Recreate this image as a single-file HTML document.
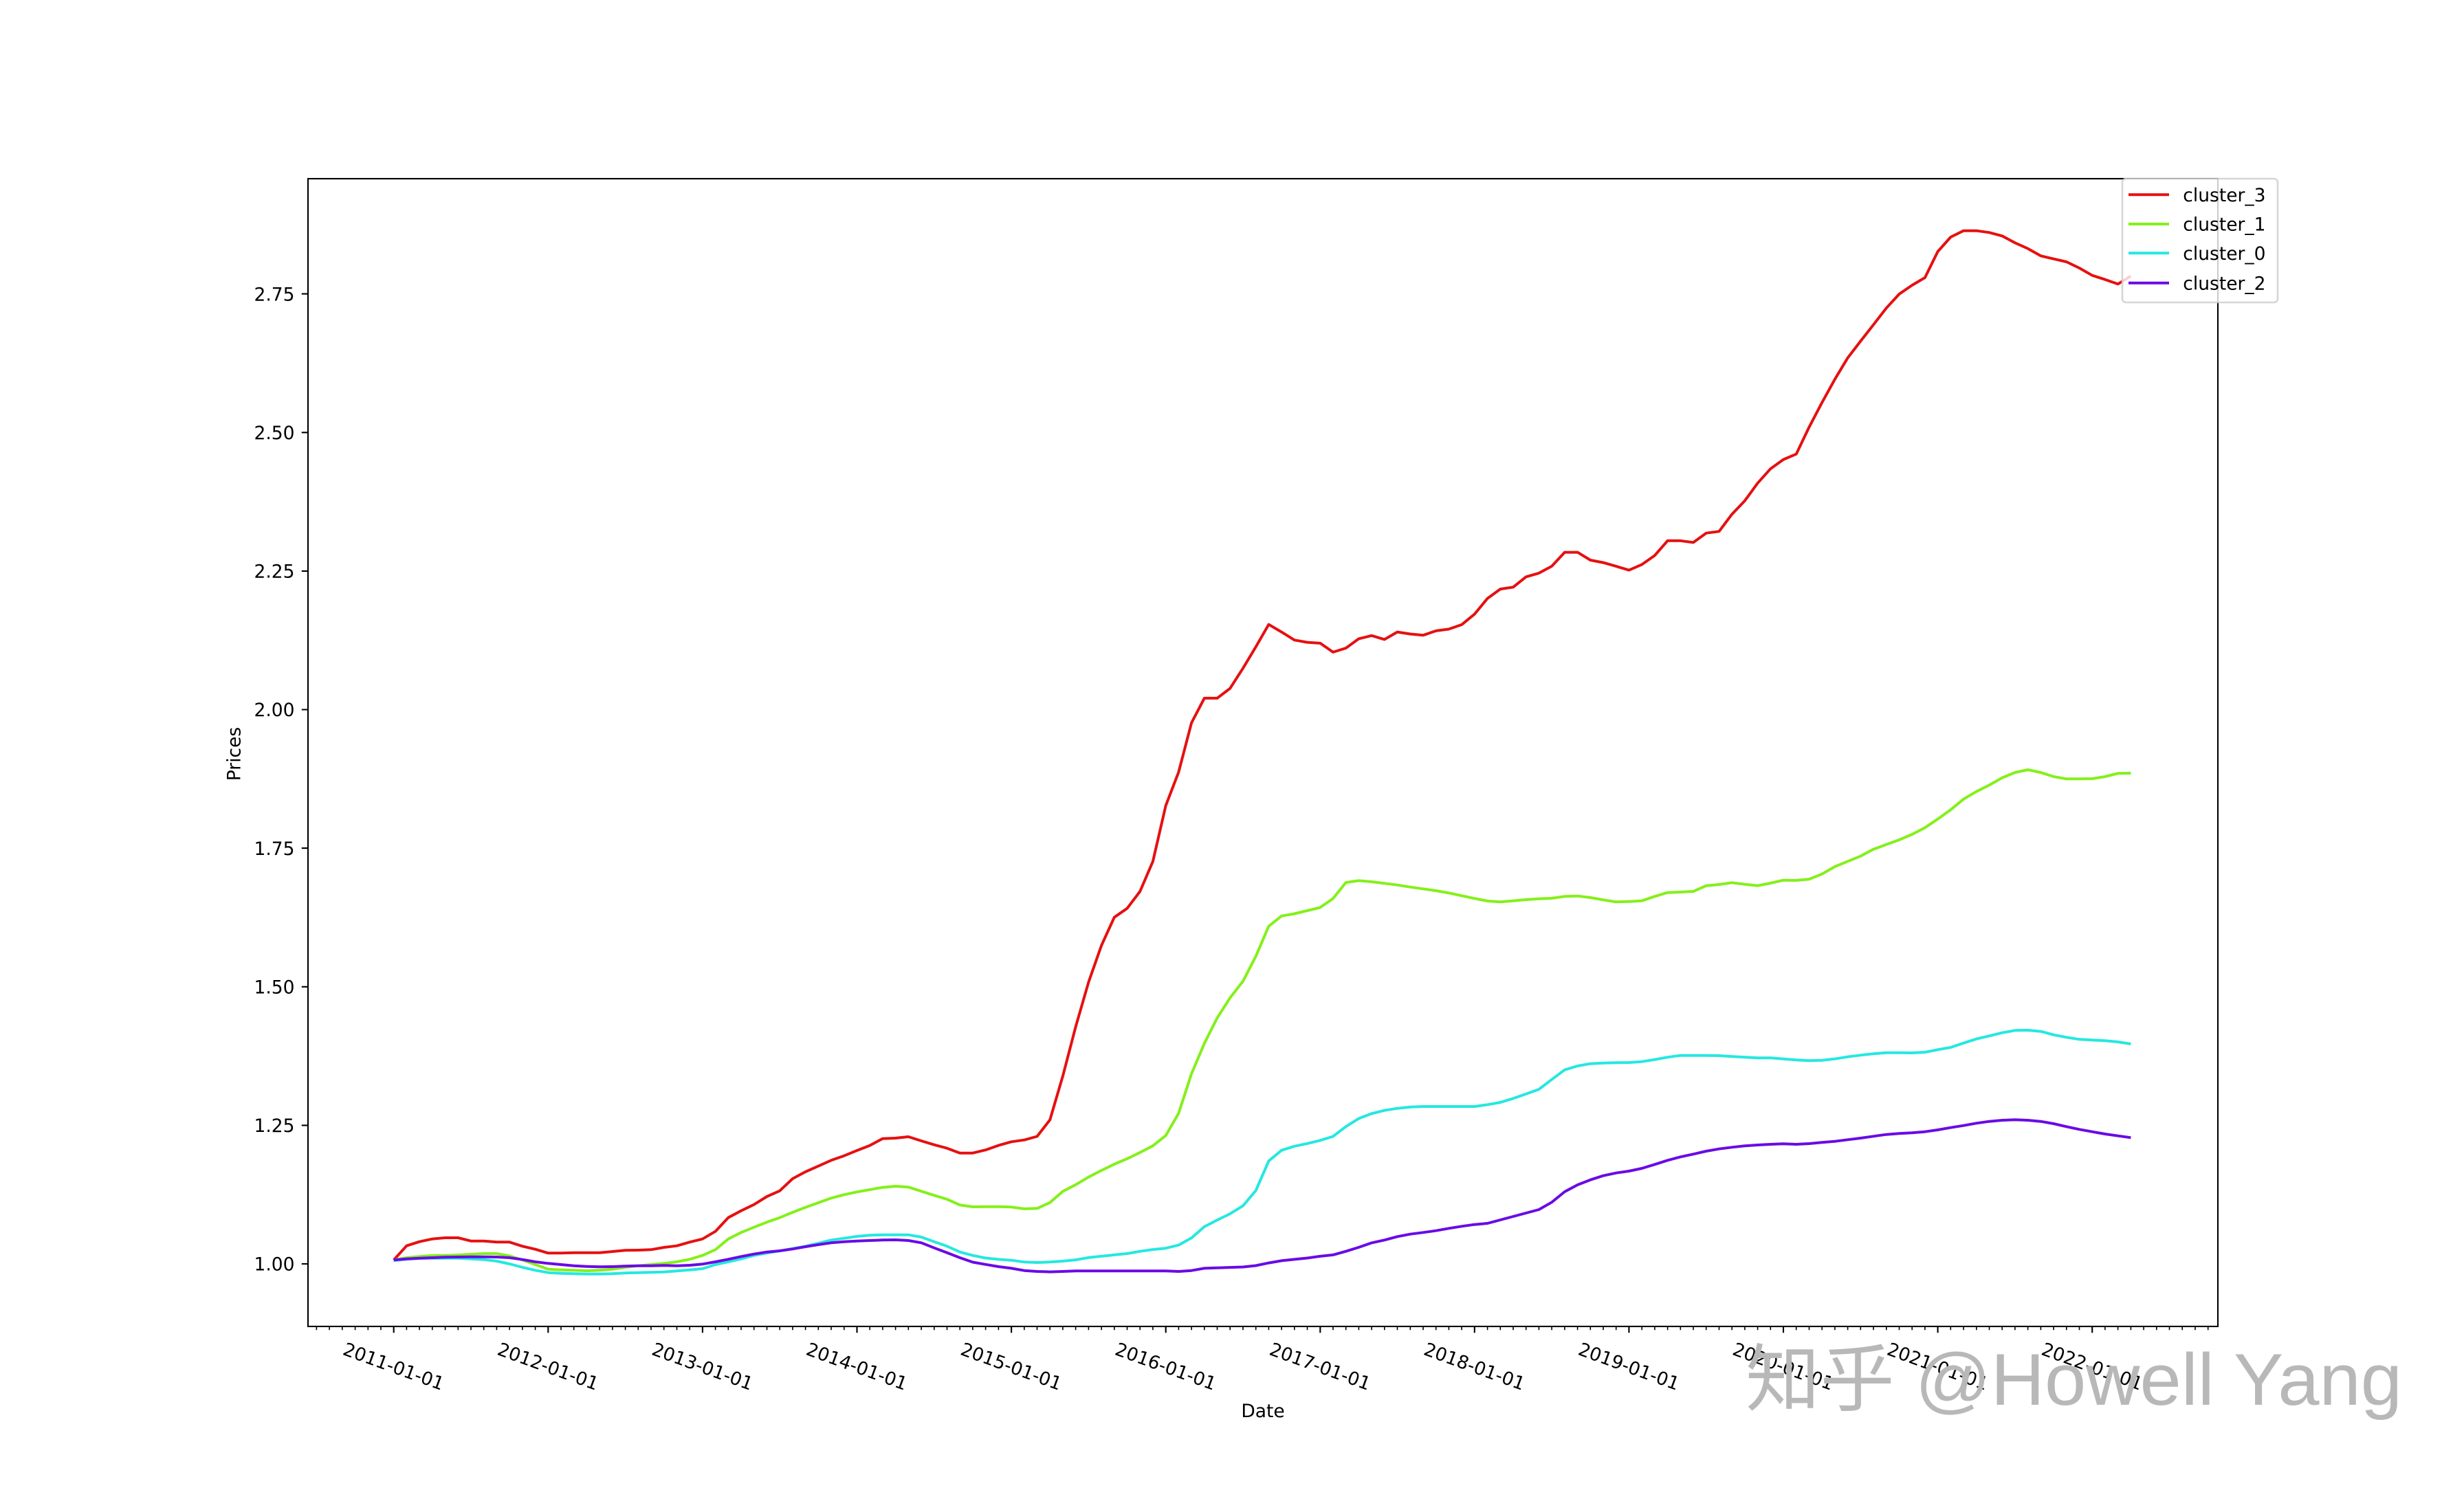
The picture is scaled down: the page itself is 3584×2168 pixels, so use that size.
<!DOCTYPE html>
<html>
<head>
<meta charset="utf-8">
<style>
html,body{margin:0;padding:0;background:#fff;}
svg{display:block;}
text{font-family:"DejaVu Sans","Liberation Sans",sans-serif;fill:#000;}
</style>
</head>
<body>
<svg width="3584" height="2168" viewBox="0 0 3584 2168" xmlns="http://www.w3.org/2000/svg">
<rect x="0" y="0" width="3584" height="2168" fill="#fff"/>
<defs>
<clipPath id="ax"><rect x="448" y="260" width="2778" height="1670"/></clipPath>
</defs>

<g clip-path="url(#ax)" fill="none" stroke-width="4" stroke-linejoin="round" stroke-linecap="butt">
<polyline stroke="#e61010" points="572.7,1833.3 591.4,1812.7 610.1,1806.7 628.8,1802.7 647.6,1801 666.3,1801 685,1805.7 703.7,1805.7 722.4,1807.3 741.1,1807.3 759.9,1813.3 778.6,1817.7 797.3,1823.3 816,1823.3 834.7,1822.7 853.4,1822.7 872.2,1822.7 890.9,1821 909.6,1819.3 928.3,1819 947,1818.3 965.7,1815 984.5,1812.7 1003.2,1807.3 1021.9,1802.7 1040.6,1791.7 1059.3,1771.7 1078,1761.7 1096.7,1752.7 1115.5,1741 1134.2,1732.7 1152.9,1715 1171.6,1705 1190.3,1696.7 1209,1688.3 1227.8,1681.7 1246.5,1674 1265.2,1666.7 1283.9,1656.7 1302.6,1656 1321.3,1654 1340.1,1660 1358.8,1665.7 1377.5,1670.7 1396.2,1677.7 1414.9,1677.7 1433.6,1673.2 1452.4,1666.6 1471.1,1661.3 1489.8,1658.7 1508.5,1653.5 1527.2,1629.4 1545.9,1565.7 1564.6,1494.1 1583.4,1429 1602.1,1375.7 1620.8,1334.7 1639.5,1321.7 1658.2,1297 1676.9,1253.4 1695.7,1172.1 1714.4,1123.3 1733.1,1051.7 1751.8,1015.9 1770.5,1015.9 1789.2,1001.6 1808,972.3 1826.7,941.1 1845.4,908.6 1864.1,919.6 1882.8,931.3 1901.5,934.6 1920.3,935.9 1939,948.9 1957.7,943 1976.4,929.4 1995.1,924.8 2013.8,930.4 2032.5,919.6 2051.3,922.5 2070,924.3 2088.7,917.9 2107.4,915.4 2126.1,908.9 2144.8,893.6 2163.6,870.7 2182.3,857.1 2201,854.3 2219.7,839.3 2238.4,833.9 2257.1,823.9 2275.9,803.6 2294.6,803.6 2313.3,815 2332,818.6 2350.7,823.9 2369.4,829.6 2388.2,821.4 2406.9,808.2 2425.6,786.8 2444.3,786.8 2463,789.3 2481.7,775.7 2500.5,773.2 2519.2,748.2 2537.9,728.6 2556.6,702.9 2575.3,682.1 2594,668.6 2612.7,660.7 2631.5,621.4 2650.2,585.7 2668.9,551.8 2687.6,520.7 2706.3,496.4 2725,472.5 2743.8,448.2 2762.5,427.9 2781.2,415 2799.9,404 2818.6,366 2837.3,345 2856.1,335.7 2874.8,335.7 2893.5,338.3 2912.2,343.3 2930.9,353.3 2949.6,361.7 2968.4,372.3 2987.1,376.7 3005.8,381 3024.5,390 3043.2,400.7 3061.9,406.7 3080.6,413.3 3099.4,401.7"/>
<polyline stroke="#84f01a" points="572.7,1833.3 591.4,1830 610.1,1828.3 628.8,1826.7 647.6,1826.7 666.3,1826 685,1825 703.7,1824 722.4,1824 741.1,1827.3 759.9,1833.3 778.6,1840 797.3,1846.7 816,1847.7 834.7,1848.3 853.4,1849 872.2,1848.3 890.9,1846.7 909.6,1844 928.3,1841.7 947,1840 965.7,1838.3 984.5,1836 1003.2,1832.3 1021.9,1826.7 1040.6,1818.3 1059.3,1802.7 1078,1793.3 1096.7,1785.7 1115.5,1778.3 1134.2,1771.7 1152.9,1764 1171.6,1756.7 1190.3,1750 1209,1743.3 1227.8,1738.3 1246.5,1734.3 1265.2,1731 1283.9,1727.7 1302.6,1726 1321.3,1727.3 1340.1,1733.3 1358.8,1739.3 1377.5,1745 1396.2,1753.3 1414.9,1756 1433.6,1755.7 1452.4,1755.7 1471.1,1756.3 1489.8,1758.9 1508.5,1758.3 1527.2,1749.8 1545.9,1733.5 1564.6,1723.8 1583.4,1712.7 1602.1,1703 1620.8,1693.9 1639.5,1686 1658.2,1676.9 1676.9,1667.2 1695.7,1652.2 1714.4,1619.7 1733.1,1562.4 1751.8,1518.2 1770.5,1481.1 1789.2,1451.8 1808,1427.7 1826.7,1391.3 1845.4,1347.7 1864.1,1332.8 1882.8,1329.5 1901.5,1325 1920.3,1320.4 1939,1307.4 1957.7,1284 1976.4,1281.4 1995.1,1283 2013.8,1285.3 2032.5,1287.7 2051.3,1290.7 2070,1293.3 2088.7,1296 2107.4,1299.3 2126.1,1303.3 2144.8,1307.3 2163.6,1311 2182.3,1312.3 2201,1310.7 2219.7,1309 2238.4,1307.7 2257.1,1307 2275.9,1304.3 2294.6,1303.7 2313.3,1306 2332,1309.3 2350.7,1312.3 2369.4,1311.7 2388.2,1310.7 2406.9,1304.3 2425.6,1298.7 2444.3,1298 2463,1297 2481.7,1288.7 2500.5,1287 2519.2,1284.3 2537.9,1286.7 2556.6,1288.7 2575.3,1285 2594,1280.7 2612.7,1281 2631.5,1279.3 2650.2,1271.7 2668.9,1261 2687.6,1253.3 2706.3,1245.7 2725,1235.7 2743.8,1228.7 2762.5,1222 2781.2,1214 2799.9,1204.3 2818.6,1191.7 2837.3,1178.3 2856.1,1162.7 2874.8,1151.7 2893.5,1142.3 2912.2,1131.7 2930.9,1124 2949.6,1120 2968.4,1124 2987.1,1130 3005.8,1133.3 3024.5,1133.3 3043.2,1133 3061.9,1130 3080.6,1125.3 3099.4,1125"/>
<polyline stroke="#25e8e0" points="572.7,1834.3 591.4,1832.3 610.1,1831 628.8,1830.7 647.6,1830.7 666.3,1830.7 685,1831.7 703.7,1832.7 722.4,1835 741.1,1839 759.9,1844 778.6,1848.3 797.3,1851.7 816,1852.7 834.7,1853.3 853.4,1853.7 872.2,1853.7 890.9,1853.3 909.6,1852.3 928.3,1851.7 947,1851.3 965.7,1850.7 984.5,1849.3 1003.2,1847.7 1021.9,1846 1040.6,1840 1059.3,1836 1078,1831.7 1096.7,1826.7 1115.5,1823.3 1134.2,1820 1152.9,1816.7 1171.6,1813.3 1190.3,1809 1209,1804.3 1227.8,1801.7 1246.5,1799 1265.2,1797.3 1283.9,1796.7 1302.6,1796.7 1321.3,1796.7 1340.1,1800 1358.8,1806.7 1377.5,1813.3 1396.2,1821.7 1414.9,1826.7 1433.6,1830.5 1452.4,1832.4 1471.1,1833.7 1489.8,1836.3 1508.5,1837 1527.2,1836.3 1545.9,1835 1564.6,1833.1 1583.4,1829.8 1602.1,1827.9 1620.8,1825.9 1639.5,1824 1658.2,1820.7 1676.9,1818.1 1695.7,1816.2 1714.4,1811.6 1733.1,1801.2 1751.8,1784.9 1770.5,1775.2 1789.2,1766.1 1808,1754.4 1826.7,1732.2 1845.4,1689.3 1864.1,1673.7 1882.8,1667.8 1901.5,1663.9 1920.3,1659.3 1939,1653.5 1957.7,1639.2 1976.4,1627.5 1995.1,1620.3 2013.8,1615.7 2032.5,1612.7 2051.3,1610.7 2070,1610 2088.7,1610 2107.4,1610 2126.1,1610 2144.8,1610 2163.6,1607.3 2182.3,1604 2201,1598.3 2219.7,1591.7 2238.4,1585 2257.1,1570.7 2275.9,1556.7 2294.6,1551 2313.3,1547.7 2332,1546.7 2350.7,1546.3 2369.4,1546 2388.2,1544.7 2406.9,1541.7 2425.6,1538.3 2444.3,1535.7 2463,1535.7 2481.7,1535.7 2500.5,1536 2519.2,1537.3 2537.9,1538.3 2556.6,1539.3 2575.3,1539.3 2594,1540.7 2612.7,1542.3 2631.5,1543.3 2650.2,1542.7 2668.9,1540.7 2687.6,1537.7 2706.3,1535.3 2725,1533.3 2743.8,1531.7 2762.5,1531.7 2781.2,1532 2799.9,1531 2818.6,1527.3 2837.3,1524 2856.1,1517.7 2874.8,1511.7 2893.5,1507.3 2912.2,1502.7 2930.9,1499.3 2949.6,1499 2968.4,1500.7 2987.1,1505.7 3005.8,1509.3 3024.5,1512.3 3043.2,1513.3 3061.9,1514.3 3080.6,1516 3099.4,1519"/>
<polyline stroke="#6a0ae6" points="572.7,1833.3 591.4,1831.7 610.1,1830.7 628.8,1830 647.6,1829.3 666.3,1829 685,1828.7 703.7,1828.7 722.4,1829 741.1,1830 759.9,1832.7 778.6,1836 797.3,1838.3 816,1840 834.7,1841.7 853.4,1842.7 872.2,1843.3 890.9,1843 909.6,1842.3 928.3,1841.7 947,1841.7 965.7,1841.3 984.5,1841.7 1003.2,1841 1021.9,1839.3 1040.6,1836 1059.3,1832.3 1078,1828.3 1096.7,1824.7 1115.5,1821.7 1134.2,1820 1152.9,1817.3 1171.6,1814 1190.3,1811 1209,1808.3 1227.8,1806.7 1246.5,1805.7 1265.2,1805 1283.9,1804.3 1302.6,1804 1321.3,1805 1340.1,1808.3 1358.8,1815.7 1377.5,1822.7 1396.2,1830 1414.9,1836.5 1433.6,1839.8 1452.4,1843 1471.1,1845.4 1489.8,1848.7 1508.5,1850 1527.2,1850.6 1545.9,1850 1564.6,1849.3 1583.4,1849.3 1602.1,1849.3 1620.8,1849.3 1639.5,1849.3 1658.2,1849.3 1676.9,1849.3 1695.7,1849.3 1714.4,1850 1733.1,1848.7 1751.8,1845.4 1770.5,1844.8 1789.2,1844.1 1808,1843.5 1826.7,1841.5 1845.4,1837.6 1864.1,1834.4 1882.8,1832.4 1901.5,1830.5 1920.3,1827.9 1939,1825.9 1957.7,1820.7 1976.4,1814.9 1995.1,1808.4 2013.8,1804.3 2032.5,1799.3 2051.3,1795.7 2070,1793.3 2088.7,1790.7 2107.4,1787.3 2126.1,1784.3 2144.8,1781.7 2163.6,1780 2182.3,1775 2201,1770 2219.7,1765 2238.4,1760 2257.1,1749.3 2275.9,1734 2294.6,1724 2313.3,1716.7 2332,1710.7 2350.7,1706.7 2369.4,1704 2388.2,1700 2406.9,1694.3 2425.6,1688.3 2444.3,1683.3 2463,1679.3 2481.7,1675 2500.5,1671.7 2519.2,1669.3 2537.9,1667.3 2556.6,1666 2575.3,1665 2594,1664.3 2612.7,1665 2631.5,1664 2650.2,1662.3 2668.9,1660.7 2687.6,1658.3 2706.3,1656 2725,1653.3 2743.8,1650.7 2762.5,1649.3 2781.2,1648.3 2799.9,1646.7 2818.6,1644 2837.3,1640.7 2856.1,1637.7 2874.8,1634.3 2893.5,1631.7 2912.2,1630 2930.9,1629.3 2949.6,1630 2968.4,1631.7 2987.1,1635 3005.8,1639.3 3024.5,1643.3 3043.2,1646.7 3061.9,1650 3080.6,1652.7 3099.4,1655.3"/>
</g>

<!-- spines -->
<rect x="448" y="260" width="2778" height="1670" fill="none" stroke="#000" stroke-width="2.1"/>

<!-- y ticks -->
<path stroke="#000" stroke-width="2.1" d="M438.8 1839H448M438.8 1637.4H448M438.8 1435.8H448M438.8 1234.1H448M438.8 1032.5H448M438.8 830.9H448M438.8 629.3H448M438.8 427.6H448"/>
<g font-size="26.5" text-anchor="end">
<text x="428.5" y="1848.7">1.00</text>
<text x="428.5" y="1647.1">1.25</text>
<text x="428.5" y="1445.5">1.50</text>
<text x="428.5" y="1243.8">1.75</text>
<text x="428.5" y="1042.2">2.00</text>
<text x="428.5" y="840.6">2.25</text>
<text x="428.5" y="639">2.50</text>
<text x="428.5" y="437.3">2.75</text>
</g>

<!-- minor x ticks -->
<path stroke="#000" stroke-width="1.6" d="M460.4 1930v5.3M479.1 1930v5.3M497.8 1930v5.3M516.6 1930v5.3M535.3 1930v5.3M554 1930v5.3M572.7 1930v5.3M591.4 1930v5.3M610.1 1930v5.3M628.8 1930v5.3M647.6 1930v5.3M666.3 1930v5.3M685 1930v5.3M703.7 1930v5.3M722.4 1930v5.3M741.1 1930v5.3M759.9 1930v5.3M778.6 1930v5.3M797.3 1930v5.3M816 1930v5.3M834.7 1930v5.3M853.4 1930v5.3M872.2 1930v5.3M890.9 1930v5.3M909.6 1930v5.3M928.3 1930v5.3M947 1930v5.3M965.7 1930v5.3M984.5 1930v5.3M1003.2 1930v5.3M1021.9 1930v5.3M1040.6 1930v5.3M1059.3 1930v5.3M1078 1930v5.3M1096.7 1930v5.3M1115.5 1930v5.3M1134.2 1930v5.3M1152.9 1930v5.3M1171.6 1930v5.3M1190.3 1930v5.3M1209 1930v5.3M1227.8 1930v5.3M1246.5 1930v5.3M1265.2 1930v5.3M1283.9 1930v5.3M1302.6 1930v5.3M1321.3 1930v5.3M1340.1 1930v5.3M1358.8 1930v5.3M1377.5 1930v5.3M1396.2 1930v5.3M1414.9 1930v5.3M1433.6 1930v5.3M1452.4 1930v5.3M1471.1 1930v5.3M1489.8 1930v5.3M1508.5 1930v5.3M1527.2 1930v5.3M1545.9 1930v5.3M1564.6 1930v5.3M1583.4 1930v5.3M1602.1 1930v5.3M1620.8 1930v5.3M1639.5 1930v5.3M1658.2 1930v5.3M1676.9 1930v5.3M1695.7 1930v5.3M1714.4 1930v5.3M1733.1 1930v5.3M1751.8 1930v5.3M1770.5 1930v5.3M1789.2 1930v5.3M1808 1930v5.3M1826.7 1930v5.3M1845.4 1930v5.3M1864.1 1930v5.3M1882.8 1930v5.3M1901.5 1930v5.3M1920.3 1930v5.3M1939 1930v5.3M1957.7 1930v5.3M1976.4 1930v5.3M1995.1 1930v5.3M2013.8 1930v5.3M2032.5 1930v5.3M2051.3 1930v5.3M2070 1930v5.3M2088.7 1930v5.3M2107.4 1930v5.3M2126.1 1930v5.3M2144.8 1930v5.3M2163.6 1930v5.3M2182.3 1930v5.3M2201 1930v5.3M2219.7 1930v5.3M2238.4 1930v5.3M2257.1 1930v5.3M2275.9 1930v5.3M2294.6 1930v5.3M2313.3 1930v5.3M2332 1930v5.3M2350.7 1930v5.3M2369.4 1930v5.3M2388.2 1930v5.3M2406.9 1930v5.3M2425.6 1930v5.3M2444.3 1930v5.3M2463 1930v5.3M2481.7 1930v5.3M2500.5 1930v5.3M2519.2 1930v5.3M2537.9 1930v5.3M2556.6 1930v5.3M2575.3 1930v5.3M2594 1930v5.3M2612.7 1930v5.3M2631.5 1930v5.3M2650.2 1930v5.3M2668.9 1930v5.3M2687.6 1930v5.3M2706.3 1930v5.3M2725 1930v5.3M2743.8 1930v5.3M2762.5 1930v5.3M2781.2 1930v5.3M2799.9 1930v5.3M2818.6 1930v5.3M2837.3 1930v5.3M2856.1 1930v5.3M2874.8 1930v5.3M2893.5 1930v5.3M2912.2 1930v5.3M2930.9 1930v5.3M2949.6 1930v5.3M2968.4 1930v5.3M2987.1 1930v5.3M3005.8 1930v5.3M3024.5 1930v5.3M3043.2 1930v5.3M3061.9 1930v5.3M3080.6 1930v5.3M3099.4 1930v5.3M3118.1 1930v5.3M3136.8 1930v5.3M3155.5 1930v5.3M3174.2 1930v5.3M3193 1930v5.3M3211.7 1930v5.3"/>
<!-- major x ticks -->
<path stroke="#000" stroke-width="2.1" d="M572.7 1930v9.2M797.3 1930v9.2M1021.9 1930v9.2M1246.5 1930v9.2M1471.1 1930v9.2M1695.7 1930v9.2M1920.3 1930v9.2M2144.8 1930v9.2M2369.4 1930v9.2M2594 1930v9.2M2818.6 1930v9.2M3043.2 1930v9.2"/>
<g font-size="26.5" text-anchor="middle">
<text transform="translate(572.7,1988) rotate(20)" y="9.4">2011-01-01</text>
<text transform="translate(797.3,1988) rotate(20)" y="9.4">2012-01-01</text>
<text transform="translate(1021.9,1988) rotate(20)" y="9.4">2013-01-01</text>
<text transform="translate(1246.5,1988) rotate(20)" y="9.4">2014-01-01</text>
<text transform="translate(1471.1,1988) rotate(20)" y="9.4">2015-01-01</text>
<text transform="translate(1695.7,1988) rotate(20)" y="9.4">2016-01-01</text>
<text transform="translate(1920.3,1988) rotate(20)" y="9.4">2017-01-01</text>
<text transform="translate(2144.8,1988) rotate(20)" y="9.4">2018-01-01</text>
<text transform="translate(2369.4,1988) rotate(20)" y="9.4">2019-01-01</text>
<text transform="translate(2594,1988) rotate(20)" y="9.4">2020-01-01</text>
<text transform="translate(2818.6,1988) rotate(20)" y="9.4">2021-01-01</text>
<text transform="translate(3043.2,1988) rotate(20)" y="9.4">2022-01-01</text>
</g>

<!-- axis labels -->
<text x="1837" y="2062" font-size="26.5" text-anchor="middle">Date</text>
<text transform="translate(340,1097) rotate(-90)" y="9.6" font-size="26.5" text-anchor="middle">Prices</text>

<!-- legend -->
<rect x="3087" y="260" width="226" height="180" rx="5.3" ry="5.3" fill="#fff" fill-opacity="0.8" stroke="#cccccc" stroke-opacity="0.8" stroke-width="2.6"/>
<g stroke-width="4" fill="none">
<path stroke="#e61010" d="M3096 283.3H3155"/>
<path stroke="#84f01a" d="M3096 326H3155"/>
<path stroke="#25e8e0" d="M3096 368.3H3155"/>
<path stroke="#6a0ae6" d="M3096 411.7H3155"/>
</g>
<g font-size="26.5">
<text x="3175.3" y="293">cluster_3</text>
<text x="3175.3" y="335.7">cluster_1</text>
<text x="3175.3" y="378">cluster_0</text>
<text x="3175.3" y="421.4">cluster_2</text>
</g>

<!-- watermark -->
<text x="2539" y="2044" font-size="107" textLength="955" lengthAdjust="spacingAndGlyphs" style="font-family:'Liberation Sans','Noto Sans CJK SC',sans-serif;fill:#b8b8b8;">知乎 @Howell Yang</text>
</svg>
</body>
</html>
